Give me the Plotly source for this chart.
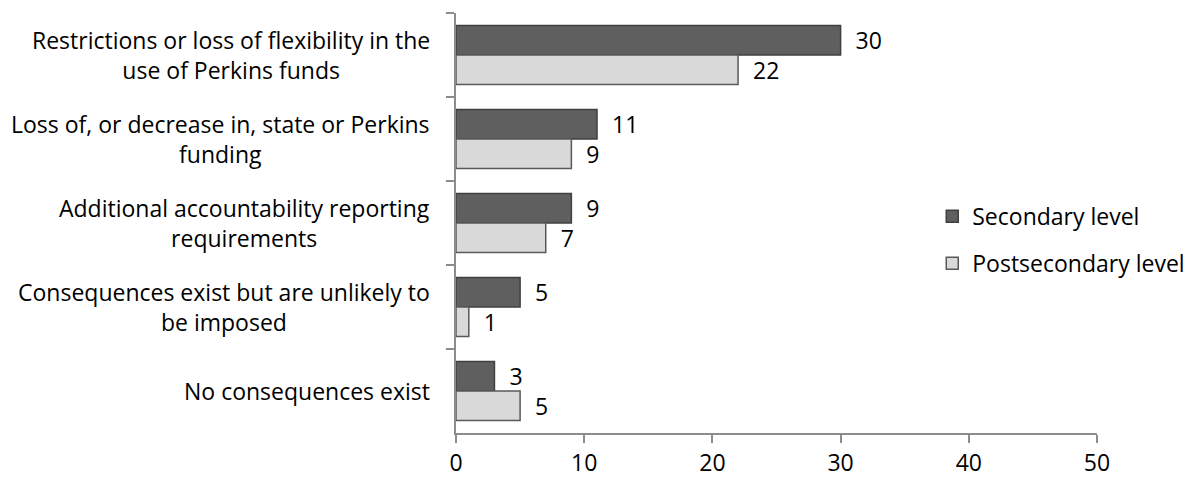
import plotly.graph_objects as go

categories = [
    "Restrictions or loss of flexibility in the<br>use of Perkins funds",
    "Loss of, or decrease in, state or Perkins<br>funding",
    "Additional accountability reporting<br>requirements",
    "Consequences exist but are unlikely to<br>be imposed",
    "No consequences exist",
]
secondary = [30, 11, 9, 5, 3]
postsecondary = [22, 9, 7, 1, 5]
x_ticks = [0, 10, 20, 30, 40, 50]

FONT = "Open Sans"
TXT = 23
AXIS_GRAY = "#8c8c8c"

fig = go.Figure()
fig.add_trace(go.Bar(
    name="Secondary level", y=categories, x=secondary, orientation="h",
    marker=dict(color="#5f5f5f", line=dict(color="#404040", width=1.5)),
    text=secondary, texttemplate="\u00a0\u00a0%{x}", textposition="outside",
    constraintext="none",
    textfont=dict(family=FONT, size=TXT, color="#000"), cliponaxis=False,
    legendgroup="a",
))
fig.add_trace(go.Bar(
    name="Postsecondary level", y=categories, x=postsecondary, orientation="h",
    marker=dict(color="#d9d9d9", line=dict(color="#595959", width=1.5)),
    text=postsecondary, texttemplate="\u00a0\u00a0%{x}", textposition="outside",
    constraintext="none",
    textfont=dict(family=FONT, size=TXT, color="#000"), cliponaxis=False,
    legendgroup="b",
))

# category labels, centred multi-line text to the left of the axis
for c in categories:
    fig.add_annotation(
        x=0, xref="paper", y=c, yref="y", text=c, showarrow=False,
        xanchor="right", align="center", xshift=-24,
        font=dict(family=FONT, size=TXT, color="#000"),
    )

fig.update_layout(
    width=1193, height=478,
    margin=dict(l=456, r=96, t=13, b=45, autoexpand=False),
    paper_bgcolor="white", plot_bgcolor="white",
    barmode="group", bargap=0.3, bargroupgap=0,
    font=dict(family=FONT, size=TXT, color="#000"),
    uniformtext=dict(mode=False),
    legend=dict(
        x=0.743, y=0.46, xanchor="left", yanchor="middle",
        font=dict(family=FONT, size=TXT, color="#000"),
        traceorder="grouped", tracegroupgap=14, bgcolor="rgba(0,0,0,0)",
    ),
    showlegend=True,
)
fig.update_xaxes(
    range=[0, 50], tickvals=x_ticks, showgrid=False, zeroline=False,
    showline=True, linecolor=AXIS_GRAY, linewidth=2,
    ticks="outside", ticklen=8, tickwidth=2, tickcolor=AXIS_GRAY,
    tickfont=dict(family=FONT, size=TXT, color="#000"),
)
fig.update_yaxes(
    type="category", autorange="reversed", showgrid=False,
    showline=True, linecolor=AXIS_GRAY, linewidth=2,
    ticks="outside", ticklen=8, tickwidth=2, tickcolor=AXIS_GRAY,
    tickson="boundaries", showticklabels=False,
)

fig.write_html("out.html")
